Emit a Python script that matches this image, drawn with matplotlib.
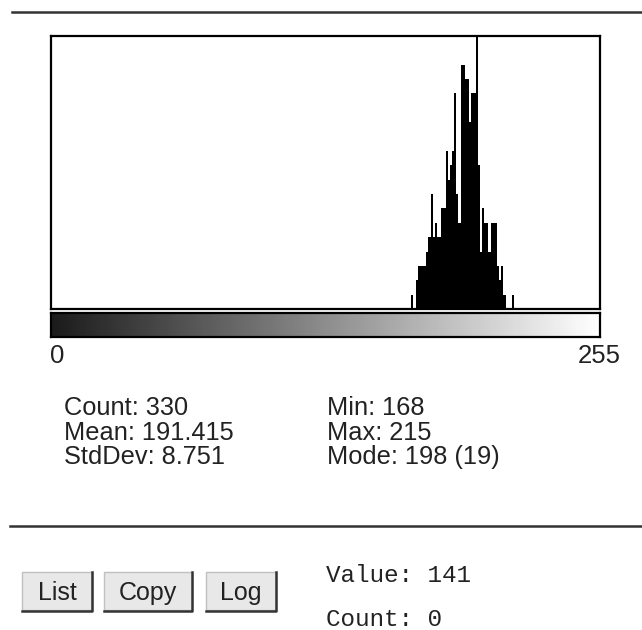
import numpy as np
import matplotlib
matplotlib.use("Agg")
import matplotlib.pyplot as plt
from matplotlib.patches import Rectangle

# histogram counts per grey value (168..215)
bins = np.arange(168, 216)
counts = [1, 0, 2, 3, 3, 3, 3, 4, 5, 8,
          5, 6, 5, 5, 7, 7, 11, 9, 10, 11,
          15, 8, 6, 17, 17, 16, 16, 13, 15, 15,
          19, 10, 4, 7, 6, 6, 4, 6, 6, 6,
          3, 2, 3, 1, 0, 0, 0, 1]

stats_left = ["Count: 330", "Mean: 191.415", "StdDev: 8.751"]
stats_right = ["Min: 168", "Max: 215", "Mode: 198 (19)"]
buttons = ["List", "Copy", "Log"]
value_lines = ["Value: 141", "Count: 0"]

W, H = 642, 630
fig = plt.figure(figsize=(W / 100, H / 100), dpi=100)

# background axes in pixel coords for text / lines / buttons
bg = fig.add_axes([0, 0, 1, 1])
bg.set_xlim(0, W)
bg.set_ylim(H, 0)
bg.axis("off")

def frac(x0, y0, x1, y1):
    return [x0 / W, 1 - y1 / H, (x1 - x0) / W, (y1 - y0) / H]

# histogram
ax = fig.add_axes(frac(51, 36, 600, 309))
ax.bar(bins, counts, width=1, align="edge", color="black", linewidth=0)
ax.set_xlim(0, 256)
ax.set_ylim(0, 19)
ax.set_xticks([])
ax.set_yticks([])
for s in ax.spines.values():
    s.set_linewidth(1.6)

# grey ramp
gax = fig.add_axes(frac(51, 313, 600, 337))
gax.imshow(np.linspace(0, 1, 256)[None, :], cmap="gray", vmin=-0.12, vmax=1.0,
           aspect="auto")
gax.set_xticks([])
gax.set_yticks([])
for s in gax.spines.values():
    s.set_linewidth(1.6)

sans = "Liberation Sans"
mono = "Liberation Mono"
tc = "#222222"

bg.text(50, 356, "0", fontsize=18.5, family=sans, ha="left", va="center", color=tc)
bg.text(621, 356, "255", fontsize=18.5, family=sans, ha="right", va="center", color=tc)

for i, (a, b) in enumerate(zip(stats_left, stats_right)):
    y = 408 + i * 24.5
    bg.text(64, y, a, fontsize=18.3, family=sans, ha="left", va="center", color=tc)
    bg.text(327, y, b, fontsize=18.3, family=sans, ha="left", va="center", color=tc)

# separator lines
bg.plot([12, W], [12, 12], color="#333333", lw=1.8)
bg.plot([10, W], [526, 526], color="#333333", lw=1.8)

# buttons
btn_x = [(22, 92), (104, 192), (206, 276)]
for (x0, x1), lab in zip(btn_x, buttons):
    bg.add_patch(Rectangle((x0, 572), x1 - x0, 38, facecolor="#e8e8e8",
                           edgecolor="#c0c0c0", lw=1))
    bg.plot([x1, x1, x0], [572, 611, 611], color="#333333", lw=1.8)
    bg.text((x0 + x1) / 2, 593, lab, fontsize=18, family=sans, ha="center",
            va="center", color=tc)

bg.text(326, 576, value_lines[0], fontsize=17.5, family=mono, ha="left", va="center", color=tc)
bg.text(326, 619, value_lines[1], fontsize=17.5, family=mono, ha="left", va="center", color=tc)

fig.savefig("out.png", dpi=100)
